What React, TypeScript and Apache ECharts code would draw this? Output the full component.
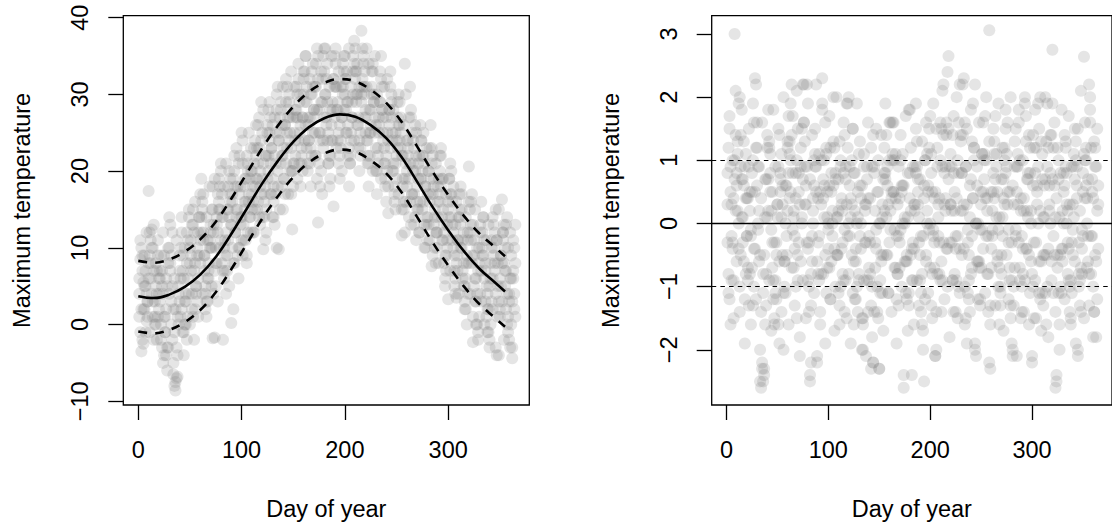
import React, { useEffect, useRef } from "react";
import * as echarts from "echarts";

// ---- tick labels ----
const dayTicks = [0, 100, 200, 300];
const tempTicks = [-10, 0, 10, 20, 30, 40];
const residTicks = [-2, -1, 0, 1, 2, 3];

// ---- fitted curve (left panel) ----
const fitDays = [0, 15, 30, 45, 60, 75, 90, 105, 120, 135, 150, 165, 180, 195, 210, 225, 240, 255, 270, 285, 300, 315, 330, 345, 355];
const fitTemps = [3.7, 3.45, 3.9, 4.9, 6.5, 8.8, 11.8, 15.1, 18.4, 21.3, 23.8, 25.7, 26.9, 27.4, 27.1, 26.0, 24.3, 21.8, 18.6, 15.3, 12.3, 9.6, 7.3, 5.5, 4.3];
const upperTemps = [8.3, 8.05, 8.5, 9.5, 11.1, 13.4, 16.4, 19.7, 23.0, 25.9, 28.4, 30.3, 31.5, 32.0, 31.7, 30.6, 28.9, 26.4, 23.2, 19.9, 16.9, 14.2, 11.9, 10.1, 8.9];
const lowerTemps = [-0.9, -1.15, -0.7, 0.3, 1.9, 4.2, 7.2, 10.5, 13.8, 16.7, 19.2, 21.1, 22.3, 22.8, 22.5, 21.4, 19.7, 17.2, 14.0, 10.7, 7.7, 5.0, 2.7, 0.9, -0.3];

// ---- daily maximum temperatures (day of year = position + 1), three runs of observations ----
const tempsA = [
  6, 8.5, 10, 9, 5.5, 2, -1, 0.5, 3, 17.4,
  12, 8, 4, 1, -2, 1, 5, 7, 9, 6,
  3, 0, -3, -5, -4, -1, 2, 5, 8, 10,
  7, 3, -2, -6.5, -8, -7.5, -3, 1, 4, 7,
  10, 12, 9, 6, 3, 0, -2, 1, 4, 8,
  11, 13, 15, 12, 8, 5, 3, 6, 9, 11,
  14, 16, 12, 9, 5, 3, 6, 8, 11, 13,
  10, -1.8, 4, 7, 10, 14, 17, 19, 15, 11,
  8, -2, 6, 9, 12, 15, 18, 20, 16, 13,
  10, 2, 8, 12, 15, 18, 21, 17, 14, 11,
  9, 13, 16, 19, 22, 20, 17, 14, 12, 15,
  18, 21, 24, 22, 19, 16, 14, 18, 29, 25,
  21, 17, 11, 15, 19, 22, 25, 27, 23, 19,
  16, 13, 17, 10, 20, 24, 27, 29, 26, 22,
  19, 17, 21, 25, 28, 30, 27, 23, 20, 18,
  21, 24, 27, 30, 32, 29, 26, 22, 20, 33,
  29, 26, 23, 21, 24, 27, 30, 33, 31, 28,
  25, 22, 19, 13.3, 21, 25, 29, 32, 35, 33,
  30, 27, 24, 21, 18, 22, 26, 29, 15.4, 31,
  34, 31, 28, 25, 22, 24, 27, 30, 33, 35,
  32, 29, 26, 23, 21, 24, 27, 30, 34, 36,
  33, 30, 27, 24, 22, 38.3, 31, 34, 30, 27,
  36, 24, 21, 25, 28, 31, 34, 30, 27, 23,
  20, 22, 26, 29, 32, 28, 25, 21, 18, 22,
  25, 14.5, 28, 31, 27, 24, 20, 17, 21, 24,
  27, 30, 26, 23, 11.6, 19, 16, 34, 21, 24,
  22, 19, 16, 13, 17, 20, 23, 26, 22, 18,
  15, 12, 16, 19, 22, 25, 21, 18, 14, 11,
  13, 16, 19, 7.6, 22, 18, 15, 12, 10, 14,
  17, 20, 23, 19, 15, 12, 9, 7, 11, 3.3,
  14, 17, 20, 16, 12, 9, 6, 8, 11, 14,
  17, 13, 10, 7, 5, 3, 6, 9, 12, 20.6,
  15, 11, 8, -2.3, 5, 3, 0, 4, 7, 10,
  13, 16, 12, 9, 6, 3, 1, -1, 2, 5,
  8, 11, 14, 10, 7, 4, -4, 1, 3, 6,
  9, 16.3, 12, 8, 5, 2, 14, -1, 3, 6,
  9, -4.4, 7, 4, 1,
];
const tempsB = [
  1, -1, -3.5, -2, 2, 5, 7, 4, 3, 6,
  9, 11, 12.4, 10, 7, 3, 0, -2, 1, 4,
  6, 9, 7, 4, 1, -1, -4, -6, -3, 14,
  13, 9, 5, 2, -1, -8.6, -7, -4, 0, 3,
  6, 2, -1, -4, 0, 4, 8, 11, 14, 10,
  7, 4, 1, -2, 2, 5, 9, 12, 14, 17,
  19, 15, 11, 7, 4, 1, 3, 7, 10, 12,
  15, 18, 13, -1.7, 5, 8, 12, 15, 18, 21,
  17, 14, 10, 7, 4, 7, 11, 14, 17, 0.2,
  16, 19, 22, 18, 14, 9, 6, 10, 13, 25,
  21, 18, 15, 11, 8, 12, 16, 19, 23, 20,
  16, 12, 15, 19, 23, 26, 23, 20, 17, 14,
  9.8, 14, 18, 22, 26, 28, 24, 21, 17, 14,
  18, 22, 25, 28, 31, 9.8, 25, 21, 18, 15,
  23, 26, 29, 31, 27, 24, 20, 17, 12.4, 21,
  25, 28, 31, 27, 24, 21, 18, 23, 27, 30,
  33, 35, 31, 27, 24, 21, 18, 22, 25, 28,
  31, 34, 36, 32, 28, 24, 20, 17, 23, 27,
  36, 32, 29, 25, 22, 19, 24, 28, 32, 35,
  31, 28, 24, 21, 19, 23, 27, 31, 35, 32,
  28, 25, 22, 18, 21, 25, 29, 33, 37, 33,
  30, 26, 23, 20, 25, 29, 32, 35, 31, 28,
  24, 21, 18, 22, 26, 30, 33, 29, 25, 20,
  17, 21, 25, 29, 35, 31, 27, 23, 19, 16,
  20, 24, 28, 33, 29, 25, 21, 18, 15, 19,
  23, 26, 29, 25, 22, 18, 15, 12, 16, 20,
  24, 27, 31, 28, 25, 21, 17, 14, 11, 15,
  19, 22, 26, 24, 20, 16, 13, 10, 13, 17,
  20, 23, 26, 21, 17, 13, 10, 8, 12, 16,
  19, 22, 18, 14, 11, 8, 5, 9, 13, 16,
  19, 21, 17, 13, 10, 7, 4, 3.5, 7, 11,
  14, 18, 15, 11, 8, 5, 2, 0, 4, 8,
  12, 16, 17, 13, 9, 6, 3, 0, -2, 1,
  4, 7, 10, 14, 11, 8, 5, 2, -1, -3,
  0, 3, 6, 9, 12, 15, 11, 8, -4, 2,
  5, 8, 11, 13, 10, 7, 4, 1, -2, -3,
  0, 3, 6, 10, 13,
];
const tempsC = [
  4, 11, 2, 7, -2.5, 9, 5, 12, 1, 8,
  -1, 6, 10, 3, 13, 0, 8, 4, 11, 2,
  7, -2, 5, 12, 9, 1, 6, -3, 10, 4,
  8, 0, 12, -5, 6, 2, 11, -6.8, 5, 9,
  1, 14, 7, -1, 10, 3, 12, 6, 15, 0,
  9, 2, 13, 7, 16, 4, 10, 1, 14, 8,
  12, 4, 17, 9, 2, 14, 11, 6, 18, 10,
  5, 15, 12, 19, 8, 13, 3, 16, 10, 20,
  14, 7, 18, 11, 21, 9, 15, 5, 19, 13,
  17, 8, 20, 12, 23, 15, 10, 22, 18, 14,
  24, 11, 19, 16, 9, 21, 25, 14, 20, 17,
  12, 23, 18, 26, 15, 21, 27, 13, 24, 19,
  28, 16, 22, 12, 25, 20, 29, 17, 23, 26,
  14, 27, 21, 30, 18, 24, 15, 28, 22, 31,
  19, 26, 32, 23, 17, 29, 25, 33, 20, 27,
  31, 22, 28, 19, 34, 25, 30, 21, 27, 32,
  24, 35, 29, 20, 26, 32, 23, 30, 34, 27,
  22, 31, 28, 35, 25, 18, 33, 29, 24, 36,
  30, 26, 34, 21, 31, 28, 35, 24, 32, 27,
  36, 23, 29, 33, 26, 31, 20, 34, 28, 30,
  25, 33, 29, 36, 22, 31, 27, 35, 24, 32,
  29, 34, 26, 31, 23, 30, 36, 27, 33, 25,
  31, 22, 34, 28, 25, 33, 20, 29, 35, 26,
  30, 23, 27, 33, 19, 28, 24, 31, 21, 27,
  32, 18, 26, 23, 30, 20, 28, 16, 25, 22,
  29, 17, 24, 27, 15, 22, 26, 19, 30, 18,
  23, 14, 21, 27, 17, 24, 13, 20, 25, 16,
  21, 12, 19, 24, 15, 22, 10, 18, 23, 14,
  20, 11, 17, 23, 9, 19, 14, 21, 12, 18,
  8, 16, 22, 11, 19, 13, 6, 17, 10, 15,
  19, 7, 14, 11, 18, 5, 13, 16, 9, 4,
  15, 10, 17, 6, 12, 2, 14, 8, 11, 16,
  4, 13, 9, 1, 11, 15, 6, 10, -1, 8,
  12, 3, 9, 14, 0, 7, 11, 4, 13, -2,
  6, 10, 2, 13, 8, -3, 11, 5, 15, 1,
  9, 3, 12, -2, 7, 13, 0, 10, 4, 12,
  6, -3, 11, 2, 8,
];

// ---- standardized residuals (day of year = position + 1), three runs ----
const residA = [
  0.8, 1.2, 1.5, 0.9, 0.3, -0.4, -0.9, 3.0, 0.2, 0.6,
  1.1, 1.9, 2.0, 1.4, 0.7, 0.1, -0.6, -1.2, -0.8, -0.2,
  0.4, 0.9, 0.5, -0.1, -0.7, -1.3, -1.0, -0.4, 2.2, 1.6,
  0.9, 0.2, -0.5, -1.4, -2.2, -2.5, -2.4, -1.6, -0.8, 0.1,
  0.7, 1.3, 0.8, 0.2, -0.3, -0.9, -1.5, -1.1, -0.5, 0.3,
  0.9, 1.4, 0.7, 0.1, -0.5, -1.1, -0.6, 0.0, 0.6, 1.2,
  1.7, 1.1, 0.5, 2.2, -0.1, -0.7, -0.2, 0.4, 1.0, 1.5,
  0.8, -2.1, -0.6, 0.1, 0.7, 2.2, 1.3, 0.6, 2.2, -0.4,
  -1.0, -2.5, -1.3, -0.6, 0.0, 0.6, 1.1, 0.5, -2.1, -0.8,
  -0.2, 0.5, 1.0, 2.3, 0.7, 0.1, -0.5, -1.1, -0.7, 0.0,
  0.6, 1.2, 0.8, 0.2, 2.0, -0.4, -1.0, -0.5, 0.1, 0.7,
  1.3, 0.9, 0.3, -0.3, -0.9, -1.4, -0.9, 1.9, -0.2, 2.0,
  0.6, 0.1, -0.5, -1.1, -1.6, -1.2, -0.6, 0.0, 0.5, 1.1,
  0.6, 0.0, -2.0, -1.5, -0.9, -0.3, 0.3, 0.9, 0.4, -0.2,
  -0.8, -1.3, -1.8, -2.2, -1.4, -0.7, -0.1, 0.5, 1.0, -2.3,
  0.0, -0.6, -1.1, -0.5, 0.2, 0.8, 1.4, 0.9, 0.3, -0.3,
  1.6, 0.4, 1.0, 0.5, -0.1, -0.7, -1.2, -0.8, -0.2, 0.4,
  1.0, 0.6, 0.0, -2.6, -0.6, -1.1, -0.5, 0.1, 1.8, 0.8,
  0.2, -2.4, -0.9, -0.4, 0.2, 0.8, 1.3, 0.7, 0.1, -0.5,
  -1.1, -1.6, -2.0, -2.5, -1.2, -0.6, 0.0, 0.6, 1.2, 1.7,
  1.1, 0.5, -0.1, -0.7, -2.1, -1.4, -0.8, -0.2, 0.4, 1.0,
  1.5, 2.1, 1.4, 0.8, 0.2, -0.4, -1.0, 2.65, -0.3, 0.3,
  0.9, 1.4, 0.8, 0.2, -0.4, -0.9, -1.5, -1.0, -0.4, 0.2,
  0.8, 1.4, 2.3, 1.6, 0.9, 0.3, -0.3, -0.9, -1.4, -0.8,
  -0.2, 0.4, 1.0, 2.2, -2.1, 0.6, 0.0, -0.6, -1.2, -0.7,
  -0.1, 0.5, 1.1, 1.7, 1.0, 0.4, -0.2, 3.06, -2.3, -0.4,
  0.2, 0.8, 1.3, 0.7, 0.1, -0.5, -1.0, -1.6, -1.1, -0.5,
  0.1, 0.7, 1.2, 1.8, 1.1, 0.5, -0.1, -0.7, -1.3, -0.9,
  -2.1, 0.3, 0.9, 1.5, 0.9, 0.3, -0.3, -0.9, -1.5, -1.0,
  -0.4, 0.2, 2.0, 1.3, 0.7, 0.1, -0.5, -1.1, -0.6, -2.2,
  0.6, 1.2, 1.8, 1.2, 0.6, 0.0, -0.6, -1.2, -1.7, -1.1,
  -0.5, 0.1, 0.7, 1.3, 1.9, 1.2, 0.6, 0.0, -0.6, 2.75,
  -1.1, -0.5, 0.1, -2.5, 1.2, 0.7, 0.1, -0.5, -1.1, -0.6,
  0.0, 0.6, 1.2, 0.8, 0.2, -0.4, -1.0, -1.6, -1.1, -0.5,
  0.1, 0.7, 1.3, 0.9, -2.1, -0.3, -0.9, -1.4, -0.8, -0.2,
  2.64, 1.0, 0.6, 0.0, -0.6, 2.2, 2.0, -0.8, -0.2, 0.4,
  -1.4, 0.9, -1.8, 0.2, -0.4,
];
const residB = [
  -0.3, -0.8, -1.2, -1.6, -0.9, -0.3, 0.4, 1.0, 1.4, 0.8,
  0.2, -0.4, -1.0, -0.5, 0.1, 0.7, 1.3, 0.9, 0.4, -0.2,
  -0.7, -1.3, -0.8, -0.2, 0.5, 1.0, 1.6, 2.3, 1.2, 0.6,
  0.0, -0.6, -2.0, -2.6, -2.3, -1.1, -0.5, 0.1, 0.7, 1.2,
  1.8, 1.2, 0.5, -0.1, -0.7, -1.2, -1.6, -0.9, -0.3, 0.3,
  -1.6, -1.9, 0.5, 1.1, 0.6, -2.0, -0.6, -1.1, -0.5, 0.2,
  0.8, 1.3, 1.9, 1.4, 0.8, 0.2, -0.4, -1.0, -1.5, -0.9,
  -0.3, 0.3, 0.9, 1.5, 2.2, 1.6, 0.9, 0.3, -0.3, -0.9,
  -1.4, -2.4, -0.8, -0.2, 0.4, 1.0, 1.5, 0.9, -2.2, -0.3,
  -0.9, -1.4, -0.8, 1.9, 0.4, 1.0, 1.6, 1.1, 0.5, -0.1,
  -0.7, -1.2, -0.6, 0.0, 0.6, 1.2, 0.7, 0.1, -0.5, -1.1,
  -1.6, -1.0, -0.4, 0.2, 0.8, 1.4, 0.9, 0.3, 1.9, -0.8,
  -0.2, 0.4, 1.0, 1.5, 0.8, 0.2, -0.4, -1.0, -1.4, -0.8,
  -0.2, 0.4, -1.5, -2.0, 0.9, 0.3, -0.3, -0.9, -1.4, -0.9,
  -0.3, -2.3, 0.9, 1.4, 0.8, 0.2, -0.4, -1.0, -1.5, -2.3,
  -1.1, -0.5, 0.1, 0.7, 1.2, 0.7, 0.1, -0.5, -1.1, 1.6,
  -0.1, 0.5, 1.1, 1.6, 1.0, 0.4, -0.2, -0.8, -1.3, -0.7,
  -0.1, 0.5, 1.1, 0.6, 0.0, -0.6, -1.2, -1.7, -1.1, 1.8,
  -0.5, -0.9, -0.3, 0.3, 0.9, 1.5, 0.9, 0.3, -0.3, -0.9,
  -1.4, -0.8, -0.2, 0.4, 1.0, 1.6, 1.1, 0.5, -0.1, -0.7,
  -1.3, -0.8, -0.2, 0.4, -2.1, 1.5, 0.9, 0.3, -0.3, -0.9,
  -1.4, -0.9, -0.3, 0.3, 0.9, 1.6, 2.4, 1.5, 0.9, 0.3,
  -0.3, -0.9, -1.4, -0.8, -0.2, 0.4, 1.0, 1.6, 2.2, 1.4,
  0.8, 0.2, -0.4, -1.0, -1.5, -1.9, -1.1, -0.5, 0.1, 0.7,
  1.3, 1.9, 1.2, -2.0, 0.0, -0.6, -1.2, -0.7, -0.1, 0.5,
  1.1, 1.6, 1.0, 0.4, -0.2, -0.8, -1.4, -2.2, -1.3, -0.7,
  -0.1, 0.5, 1.1, 1.7, 1.1, 0.5, -0.1, -0.7, -1.3, -0.8,
  -0.2, 0.4, 1.0, 1.5, 0.9, 0.3, -0.3, -0.9, -1.5, -1.9,
  -2.0, -1.3, -0.7, -0.1, 0.5, 1.1, 1.6, 1.0, 0.4, -0.2,
  -0.8, -1.4, 1.9, -0.4, 0.2, 0.8, 1.4, 0.8, 0.2, -2.1,
  -1.0, -1.5, -0.9, -0.3, 0.3, 0.9, 1.5, 2.0, 1.3, 0.7,
  0.1, -0.5, -1.1, -1.6, -1.0, -0.4, 0.2, 0.8, 1.4, 1.9,
  1.2, 0.6, -2.6, -2.4, -0.5, -1.1, -1.6, -1.0, -0.4, 0.2,
  0.8, 1.4, 0.9, 0.3, -0.3, -0.9, -1.4, -0.9, -0.3, 0.3,
  0.9, 1.5, 1.0, 0.4, -2.0, -0.8, -1.3, -0.7, -0.1, 0.5,
  1.1, 1.6, 1.0, 0.4, -0.2, -0.8, 1.8, 1.2, 0.7, -1.8,
  -1.4, 1.2, -0.6, 1.5, 0.6,
];
const residC = [
  0.3, -1.1, 1.7, 0.5, -0.2, 1.0, -1.5, 0.7, 2.1, -0.6,
  1.3, 0.0, -1.4, 0.9, 1.8, -0.3, 0.6, -1.9, 1.1, 0.4,
  -0.9, 1.5, 0.2, -1.6, 0.8, 1.9, -0.4, 0.5, -1.2, 1.2,
  -0.1, 0.9, -2.5, 0.4, 1.6, -0.8, -2.3, 0.7, -1.3, 1.4,
  0.2, -0.9, 1.1, -1.7, 0.5, 1.8, -0.3, 0.9, -1.2, 0.1,
  1.5, -0.6, 0.8, -1.4, 0.3, 2.0, -1.0, 0.6, -0.2, 1.3,
  -1.6, 0.4, 1.0, -0.7, 1.7, 0.1, -1.3, 0.8, 2.1, -0.5,
  0.5, -1.8, 1.2, 0.0, -0.9, 1.6, 0.3, -1.5, 0.9, 1.9,
  -0.3, 0.7, -2.2, 1.4, 0.2, -1.1, 0.9, 2.2, -0.6, 0.4,
  1.1, -1.6, 0.3, 1.8, -0.8, 0.6, -1.9, 1.2, 0.1, -0.4,
  1.7, -1.2, 0.5, -0.2, 1.3, -1.7, 0.8, 2.0, -0.5, 0.2,
  -1.3, 1.0, 0.4, -0.8, 1.6, -0.1, 0.7, -1.5, 1.2, 0.0,
  0.9, -1.9, 0.3, 1.5, -0.6, 0.8, -1.2, 1.9, 0.1, -0.9,
  1.3, -0.4, 0.6, -1.6, 1.1, 0.2, -2.1, 0.7, 1.6, -0.7,
  0.4, 1.2, -1.0, -2.2, 0.9, -0.3, 1.5, -1.4, 0.5, 0.0,
  -0.9, 1.4, 0.3, -1.7, 0.8, 1.9, -0.5, 0.6, -1.1, 1.0,
  0.2, -1.4, 1.6, 0.5, -0.7, 1.1, -1.9, 0.3, 0.9, -0.3,
  1.4, -1.0, 0.6, -2.4, 0.1, 1.7, -0.6, 0.8, -1.3, 0.4,
  1.2, -0.4, 0.9, -1.6, 0.3, 1.9, -0.9, 0.5, -1.3, 0.7,
  -0.2, 1.3, -1.7, 0.6, 1.0, -0.5, 0.2, -1.1, 1.5, 0.0,
  0.8, -1.5, 1.9, -0.3, 0.5, -2.0, 1.2, 0.1, -0.8, 1.6,
  -0.6, 0.9, 2.2, -1.2, 0.4, 1.4, -0.4, 0.7, -1.8, 1.1,
  0.2, -0.9, 1.7, 0.5, -1.4, 2.0, -0.2, 0.8, -1.1, 1.3,
  -0.5, 2.2, 0.3, -1.6, 0.9, 1.5, -0.1, -1.2, 0.6, 1.8,
  -0.7, 0.4, 1.2, -1.9, 0.0, 0.9, -0.6, 1.6, -1.3, 0.3,
  1.1, -0.4, 0.7, -1.1, 2.0, 0.2, -0.8, 1.3, -1.6, 0.5,
  -0.2, 1.5, 0.4, -1.3, 0.9, -0.6, 1.9, 0.1, -1.0, 0.7,
  1.2, -1.7, 0.3, 0.8, -0.5, 1.6, -1.2, 0.5, 2.0, -0.3,
  0.6, -1.0, 1.3, -0.2, -2.1, 0.9, 1.8, -0.7, 0.2, -1.4,
  1.0, 0.4, -0.9, 1.7, -0.4, 0.7, -1.6, 1.2, 0.0, -0.8,
  1.4, -0.3, 0.8, -1.5, 0.5, 1.9, -1.1, 0.2, -0.6, 1.1,
  -1.3, 0.6, 2.0, -0.5, 0.9, -1.8, 0.3, 1.4, -0.9, 0.7,
  -0.2, 1.6, -1.4, 0.4, -0.7, 1.0, -2.0, 0.8, 1.8, -0.4,
  0.5, -1.2, 1.3, 0.0, -0.8, 1.7, 0.3, -1.5, 0.9, -0.1,
  1.1, -0.6, -1.9, 0.6, 1.5, -1.0, 0.2, 2.1, -0.4, 0.8,
  -1.5, 0.4, 1.2, -0.7, 0.7, -1.3, 1.6, -0.2, 0.5, -1.0,
  1.3, -0.5, 0.9, -1.2, 0.3,
];

const residLevels = [-1, 0, 1];

const FONT = "'Liberation Sans', Arial, Helvetica, sans-serif";
const FS = 23.5;

const minus = (v: number) => String(v).replace("-", "\u2212");

export default function App() {
  const ref = useRef<HTMLDivElement>(null);

  useEffect(() => {
    document.body.style.margin = "0";
    const chart = echarts.init(ref.current!, undefined, { renderer: "svg" });

    const byDay = (arr: number[]) => arr.map((v, i) => [i + 1, v]);
    const pair = (xs: number[], ys: number[]) => xs.map((x, i) => [x, ys[i]]);

    const textStyle = { fontFamily: FONT, fontSize: FS, color: "#000" };
    const tickStyle = { color: "#000", width: 1.3 };

    const xAxisCfg = (gridIndex: number) => ({
      gridIndex,
      type: "value",
      min: -14.5,
      max: 378.5,
      name: "Day of year",
      nameLocation: "middle",
      nameGap: 104,
      nameTextStyle: { ...textStyle, align: "center", verticalAlign: "middle" },
      axisLine: { show: false, onZero: false },
      splitLine: { show: false },
      axisTick: { show: true, customValues: dayTicks, length: 15, lineStyle: tickStyle },
      axisLabel: { customValues: dayTicks, margin: 33, ...textStyle },
    });

    const yAxisCfg = (gridIndex: number, min: number, max: number, ticks: number[]) => ({
      gridIndex,
      type: "value",
      min,
      max,
      name: "Maximum temperature",
      nameLocation: "middle",
      nameGap: 101,
      nameRotate: 90,
      nameTextStyle: { ...textStyle, align: "center", verticalAlign: "middle" },
      axisLine: { show: false, onZero: false },
      splitLine: { show: false },
      axisTick: { show: true, customValues: ticks, length: 15, lineStyle: tickStyle },
      axisLabel: {
        customValues: ticks,
        margin: 43,
        rotate: 90,
        align: "center",
        verticalAlign: "middle",
        formatter: (v: number) => minus(v),
        ...textStyle,
      },
    });

    const pointStyle = { color: "rgba(125,125,125,0.25)" };
    const pts = (xi: number, data: number[][], extra: object = {}) => ({
      type: "scatter", xAxisIndex: xi, yAxisIndex: xi, data, symbolSize: 12,
      itemStyle: pointStyle, silent: true, z: 1, ...extra,
    });

    chart.setOption({
      animation: false,
      backgroundColor: "#fff",
      grid: [
        { left: 123.3, top: 15.7, width: 406, height: 390.8, show: true, borderColor: "#000", borderWidth: 1.3, backgroundColor: "transparent" },
        { left: 711.7, top: 15.7, width: 406, height: 390.8, show: true, borderColor: "#000", borderWidth: 1.3, backgroundColor: "transparent" },
      ],
      xAxis: [xAxisCfg(0), xAxisCfg(1)],
      yAxis: [yAxisCfg(0, -10.49, 40.26, tempTicks), yAxisCfg(1, -2.874, 3.29, residTicks)],
      series: [
        pts(0, byDay(tempsA)),
        pts(0, byDay(tempsB)),
        pts(0, byDay(tempsC)),
        { type: "line", xAxisIndex: 0, yAxisIndex: 0, data: pair(fitDays, fitTemps), smooth: 0.4, showSymbol: false, lineStyle: { color: "#000", width: 2.6 }, z: 5 },
        { type: "line", xAxisIndex: 0, yAxisIndex: 0, data: pair(fitDays, upperTemps), smooth: 0.4, showSymbol: false, lineStyle: { color: "#000", width: 2.6, type: [9, 8] }, z: 5 },
        { type: "line", xAxisIndex: 0, yAxisIndex: 0, data: pair(fitDays, lowerTemps), smooth: 0.4, showSymbol: false, lineStyle: { color: "#000", width: 2.6, type: [9, 8] }, z: 5 },
        pts(1, byDay(residA)),
        pts(1, byDay(residB)),
        pts(1, byDay(residC), {
          markLine: {
            silent: true,
            symbol: "none",
            label: { show: false },
            data: residLevels.map((lv) => ({
              yAxis: lv,
              lineStyle: { color: "#000", width: lv === 0 ? 1.3 : 1.2, type: lv === 0 ? "solid" : [4.5, 4.2] },
            })),
          },
        }),
      ],
    });

    return () => chart.dispose();
  }, []);

  return <div ref={ref} style={{ width: 1112, height: 526, position: "absolute", left: 0, top: 0 }} />;
}
